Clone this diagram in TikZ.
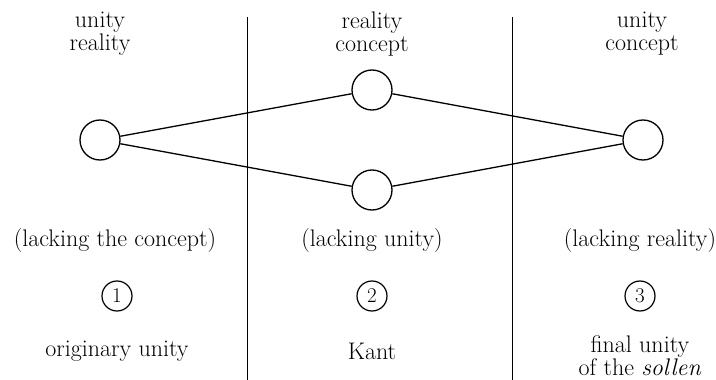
\documentclass[tikz,border=0pt]{standalone}
\begin{document}
\begin{tikzpicture}[x=1pt,y=-1pt,
  dot/.style={circle,draw,line width=1.3pt,minimum size=40pt,inner sep=0pt},
  num/.style={circle,draw,line width=1.2pt,minimum size=30pt,inner sep=0pt,font=\fontsize{21}{24}\selectfont},
  lbl/.style={font=\fontsize{24}{23}\selectfont,align=center,inner sep=0pt},
  conn/.style={line width=1.3pt},
  divider/.style={line width=1pt}]
\useasboundingbox (0,0) rectangle (716,380);
% dividers
\coordinate (d1t) at (247,17); \coordinate (d1b) at (247,380);
\coordinate (d2t) at (512,17); \coordinate (d2b) at (512,380);
\draw[divider] (d1t) -- (d1b);
\draw[divider] (d2t) -- (d2b);
% main circles
\node[dot] (L) at (100,140) {};
\node[dot] (T) at (372,90) {};
\node[dot] (B) at (372,190) {};
\node[dot] (R) at (643,140) {};
\draw[conn] (L) -- (T);
\draw[conn] (L) -- (B);
\draw[conn] (T) -- (R);
\draw[conn] (B) -- (R);
% top labels
\node[lbl] (t1) at (100,34) {unity\\reality};
\node[lbl] (t2) at (372,34) {reality\\concept};
\node[lbl] (t3) at (642,34) {unity\\concept};
% lacking labels
\node[lbl] (k1) at (115,241) {(lacking the concept)};
\node[lbl] (k2) at (372,241) {(lacking unity)};
\node[lbl] (k3) at (640,241) {(lacking reality)};
% numbers
\node[num] (n1) at (117,296) {1};
\node[num] (n2) at (372,296) {2};
\node[num] (n3) at (640,296) {3};
% bottom labels
\node[lbl] (b1) at (117,351) {originary unity};
\node[lbl] (b2) at (372,351) {Kant};
\node[lbl,font=\fontsize{24}{20}\selectfont] (b3) at (640,356) {final unity\\of the \textit{sollen}};
\end{tikzpicture}
\end{document}
